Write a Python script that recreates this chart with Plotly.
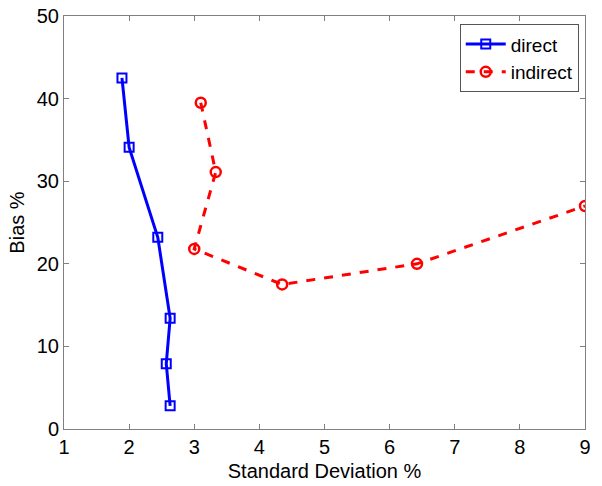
import plotly.graph_objects as go

direct_x = [1.89, 2.00, 2.44, 2.63, 2.57, 2.63]
direct_y = [42.5, 34.1, 23.2, 13.4, 7.9, 2.8]
indirect_x = [3.10, 3.33, 3.00, 4.35, 6.42, 9.00]
indirect_y = [39.5, 31.1, 21.8, 17.5, 20.0, 27.0]
x_ticks = [1, 2, 3, 4, 5, 6, 7, 8, 9]
y_ticks = [0, 10, 20, 30, 40, 50]

fig = go.Figure()
fig.add_trace(go.Scatter(x=direct_x, y=direct_y, mode="lines+markers", name="direct",
                         line=dict(color="#0000ff", width=3),
                         marker=dict(symbol="square-open", size=9, color="#0000ff", line=dict(width=2))))
fig.add_trace(go.Scatter(x=indirect_x, y=indirect_y, mode="lines+markers", name="indirect",
                         line=dict(color="#ff0000", width=3, dash="dash"),
                         marker=dict(symbol="circle-open", size=10, color="#ff0000", line=dict(width=2.5))))

axis_common = dict(showgrid=False, zeroline=False, showline=True, linecolor="#808080", linewidth=1,
                   mirror="ticks", ticks="inside", ticklen=5, tickcolor="#808080", automargin=False,
                   ticklabeloverflow="allow", tickfont=dict(size=20, color="black"))
fig.update_layout(
    width=602, height=486,
    margin=dict(l=64, r=17, t=16, b=57),
    paper_bgcolor="white", plot_bgcolor="white",
    font=dict(family="Liberation Sans, Arial, sans-serif", color="black"),
    xaxis=dict(range=[1, 9], tickvals=x_ticks,
               title=dict(text="Standard Deviation %", font=dict(size=20), standoff=6), **axis_common),
    yaxis=dict(range=[0, 50], tickvals=y_ticks,
               title=dict(text="Bias %", font=dict(size=20), standoff=6), **axis_common),
    legend=dict(x=0.988, y=0.98, xanchor="right", yanchor="top", bordercolor="#555555", borderwidth=1,
                bgcolor="white", font=dict(size=19), tracegroupgap=0, itemwidth=40),
    showlegend=True,
)
fig.write_html("out.html", config={"displayModeBar": False},
               post_script="document.body.style.margin='0';")
